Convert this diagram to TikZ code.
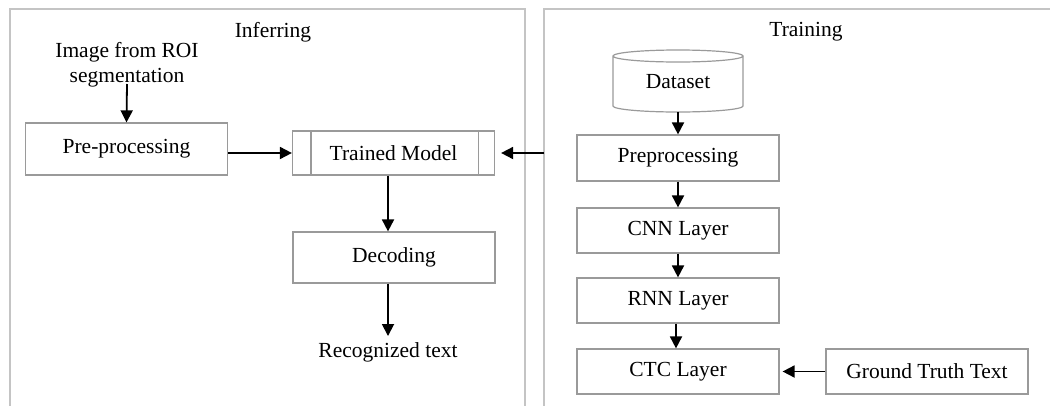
\documentclass[tikz,border=0pt]{standalone}
\usepackage{fontspec}
\setmainfont{Liberation Serif}
\usetikzlibrary{arrows.meta}
\definecolor{framegray}{HTML}{C4C4C4}
\definecolor{boxgray}{HTML}{9A9A9A}
\tikzset{
  stepbox/.style={draw=boxgray, line width=1.2pt, fill=white, minimum width=202pt, minimum height=46pt, inner sep=0pt, font=\fontsize{21.5}{25}\selectfont},
  lbl/.style={inner sep=0pt, font=\fontsize{21.5}{25}\selectfont, align=center},
  arr/.style={line width=1.8pt, -{Triangle[length=12pt,width=12pt]}},
  frameline/.style={draw=framegray, line width=1.6pt}
}
\begin{document}
\begin{tikzpicture}[x=1pt,y=-1pt]
\useasboundingbox (0,0) rectangle (1050,405);
% frames
\draw[frameline] (10,406) -- (10,9) -- (525,9) -- (525,406);
\draw[frameline] (544,406) -- (544,9) -- (1051,9);
% titles
\node[lbl] (tinf) at (273,32) {Inferring};
\node[lbl] (ttr) at (806,32) {Training};
% inferring side
\node[lbl] (img) at (127,65) {Image from ROI\\segmentation};
\coordinate (imgb) at (127,84);
\node[stepbox, minimum height=52pt] (pre) at (126.5,149) {Pre-processing};
\node[stepbox, minimum height=44pt] (tm) at (393.5,153) {Trained Model};
\draw[draw=boxgray, line width=1.2pt] ([xshift=19pt]tm.north west) -- ([xshift=19pt]tm.south west);
\draw[draw=boxgray, line width=1.2pt] ([xshift=-17pt]tm.north east) -- ([xshift=-17pt]tm.south east);
\node[stepbox, minimum height=51pt] (dec) at (394,257.5) {Decoding};
\node[lbl] (rec) at (388,352) {Recognized text};
% training side
\node[minimum width=130pt, minimum height=62pt, inner sep=0pt, font=\fontsize{21.5}{25}\selectfont] (ds) at (678,82) {Dataset};
\draw[draw=boxgray, line width=1.2pt]
  (613,56) arc[start angle=180, end angle=360, x radius=65pt, y radius=6pt]
  arc[start angle=0, end angle=180, x radius=65pt, y radius=6pt]
  -- (613,106) arc[start angle=180, end angle=360, x radius=65pt, y radius=6pt] -- (743,56);
\node[stepbox] (pp) at (678,158) {Preprocessing};
\node[stepbox, minimum height=45pt] (cnn) at (678,230.5) {CNN Layer};
\node[stepbox, minimum height=45pt] (rnn) at (678,300.5) {RNN Layer};
\node[stepbox, minimum height=45pt] (ctc) at (678,371.5) {CTC Layer};
\node[stepbox, minimum height=45pt] (gt) at (927,371.5) {Ground Truth Text};
\coordinate (trin) at (544,153);
% connectors
\draw[arr] (imgb) -- (pre.north);
\draw[arr] (pre.east |- tm.west) -- (tm.west);
\draw[arr] (trin) -- ([xshift=6pt]tm.east);
\draw[arr] (tm.south -| rec) -- (dec.north -| rec);
\draw[arr] (dec.south -| rec) -- ([yshift=6pt]rec.north);
\draw[arr] (ds.south |- 0,112) -- (pp.north);
\draw[arr] (pp.south) -- (cnn.north);
\draw[arr] (cnn.south) -- (rnn.north);
\draw[arr] ([xshift=-2pt]rnn.south) -- ([xshift=-2pt]ctc.north);
\draw[arr] (gt.west) -- ([xshift=3pt]ctc.east);
\end{tikzpicture}
\end{document}
